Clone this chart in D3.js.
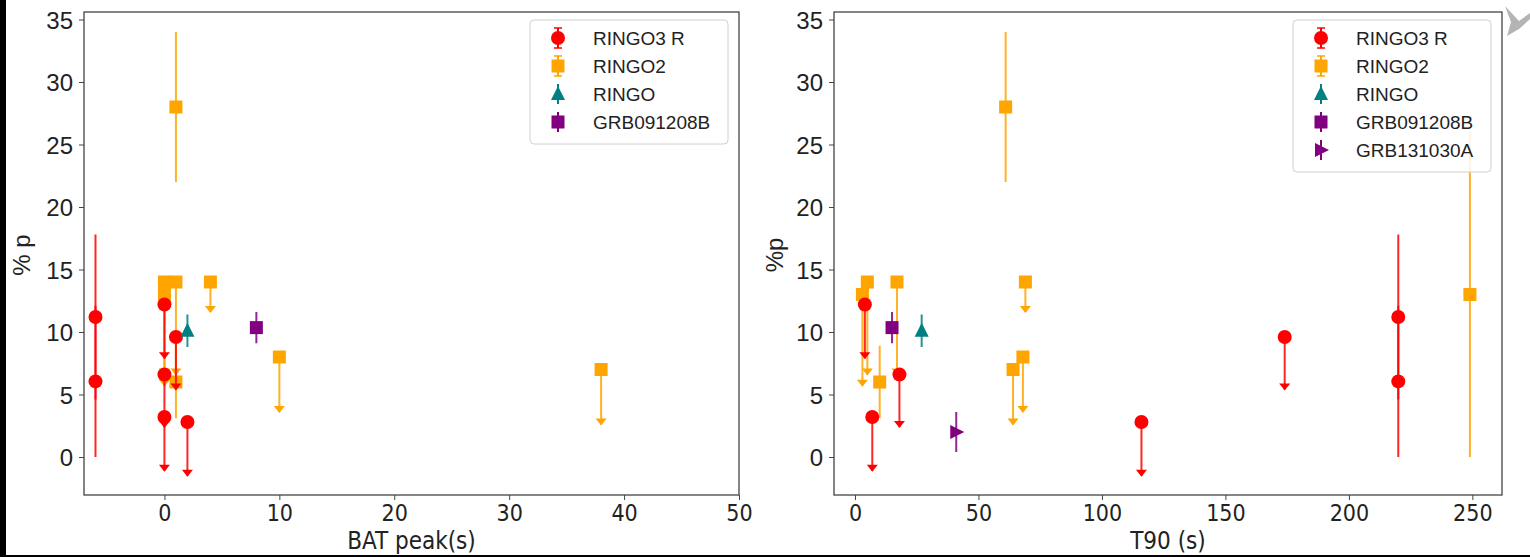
<!DOCTYPE html>
<html lang="en">
  <head>
    <meta charset="UTF-8" />
    <title>Polarisation vs BAT peak and T90</title>
    <script src="https://d3js.org/d3.v7.min.js"></script>
    <style>
      body {
        margin: 0;
        background: #fff;
      }
      .ytick text {
        font: 24px "Liberation Sans", Arial, sans-serif;
        fill: #222;
      }
      .xtick text {
        font: 23px "Liberation Sans Narrow", "DejaVu Sans Condensed", sans-serif;
        fill: #222;
      }
      .axis-title {
        font: 24px "Liberation Sans Narrow", "DejaVu Sans Condensed", sans-serif;
        fill: #222;
      }
      .legend text {
        font: 19px "Liberation Sans", Arial, sans-serif;
        fill: #222;
      }
    </style>
  </head>
  <body>
    <div id="chart"></div>
    <script>
      // RINGO3 R
      const ringo3Bat = [-6, -6, 0, 0, 0, 1, 2];
      const ringo3T90 = [220, 220, 4, 18, 7, 174, 116];
      const ringo3P = [11.2, 6.05, 12.2, 6.6, 3.2, 9.6, 2.8];
      const ringo3Err = [6.6, 6.05, 4.3, 4.2, 4.3, 4.2, 4.3];
      const ringo3Lim = [false, false, true, true, true, true, true];

      // RINGO2 (last one has no BAT peak)
      const ringo2Bat = [1, 1, 0, 0, 1, 4, 10, 38, null];
      const ringo2T90 = [61, 10, 3, 5, 17, 69, 68, 64, 249];
      const ringo2P = [28, 6, 13, 14, 14, 14, 8, 7, 13];
      const ringo2Err = [6, 2.9, 7.3, 7.4, 7.4, 2.4, 4.4, 4.4, 13];
      const ringo2Lim = [false, false, true, true, true, true, true, true, false];

      // RINGO
      const ringoBat = [2];
      const ringoT90 = [27];
      const ringoP = [10.1];
      const ringoErr = [1.3];

      // GRB091208B
      const grb091208bBat = [8];
      const grb091208bT90 = [15];
      const grb091208bP = [10.35];
      const grb091208bErr = [1.25];

      // GRB131030A (T90 only)
      const grb131030aT90 = [41];
      const grb131030aP = [2.0];
      const grb131030aErr = [1.6];

      const yTicks = [0, 5, 10, 15, 20, 25, 30, 35];
      const batTicks = [0, 10, 20, 30, 40, 50];
      const t90Ticks = [0, 50, 100, 150, 200, 250];

      const W = 1530, H = 557;

      const svg = d3
        .select("#chart")
        .append("svg")
        .attr("width", W)
        .attr("height", H);

      svg.append("rect").attr("width", W).attr("height", H).attr("fill", "#fff");

      const pts = (xs, ps, errs, lims) =>
        xs
          .map((x, i) => ({ x, p: ps[i], err: errs[i], lim: lims ? lims[i] : false }))
          .filter((d) => d.x !== null);

      const series = {
        ringo3: { color: "#ff0000", marker: "circle", label: "RINGO3 R", caps: true },
        ringo2: { color: "#ffa500", marker: "square", label: "RINGO2", caps: true },
        ringo: { color: "#008080", marker: "triangle", label: "RINGO", caps: false },
        g091208b: { color: "#800080", marker: "square", label: "GRB091208B", caps: false },
        g131030a: { color: "#800080", marker: "tri-right", label: "GRB131030A", caps: false },
      };

      function drawMarker(g, type, cx, cy, color) {
        if (type === "circle") {
          g.append("circle").attr("cx", cx).attr("cy", cy).attr("r", 7).attr("fill", color);
        } else if (type === "square") {
          g.append("rect")
            .attr("x", cx - 6.5).attr("y", cy - 6.5)
            .attr("width", 13).attr("height", 13)
            .attr("fill", color);
        } else if (type === "triangle") {
          g.append("path")
            .attr("d", `M${cx},${cy - 8}L${cx + 7},${cy + 6}L${cx - 7},${cy + 6}Z`)
            .attr("fill", color);
        } else if (type === "tri-right") {
          g.append("path")
            .attr("d", `M${cx + 8},${cy}L${cx - 6},${cy - 7}L${cx - 6},${cy + 7}Z`)
            .attr("fill", color);
        }
      }

      function panel(cfg) {
        const x = d3.scaleLinear().domain(cfg.xDomain).range(cfg.xRange);
        const y = d3.scaleLinear().domain([-3.04, 35.6]).range([495, 12]);
        const g = svg.append("g");

        // axes
        g.append("g")
          .attr("class", "xtick")
          .attr("transform", "translate(0,495)")
          .call(d3.axisBottom(x).tickValues(cfg.xTicks).tickSize(5).tickPadding(5))
          .call((a) => a.select(".domain").remove())
          .call((a) => a.selectAll("line").attr("stroke", "#444"));
        g.append("g")
          .attr("class", "ytick")
          .attr("transform", `translate(${cfg.xRange[0]},0)`)
          .call(d3.axisLeft(y).tickValues(yTicks).tickSize(5).tickPadding(6))
          .call((a) => a.select(".domain").remove())
          .call((a) => a.selectAll("line").attr("stroke", "#444"))
          .call((a) => a.selectAll("text").attr("dy", "0.36em"));

        const plot = g.append("g");

        cfg.data.forEach((s) => {
          const st = series[s.key];
          const sg = plot.append("g");
          s.points.forEach((d) => {
            const cx = x(d.x), cy = y(d.p);
            if (d.lim) {
              const ye = y(d.p - d.err);
              sg.append("line")
                .attr("x1", cx).attr("x2", cx)
                .attr("y1", cy).attr("y2", ye)
                .attr("stroke", st.color).attr("stroke-width", 2)
                .attr("stroke-opacity", 0.85);
              sg.append("path")
                .attr("d", `M${cx - 5.5},${ye - 6}L${cx + 5.5},${ye - 6}L${cx},${ye + 1}Z`)
                .attr("fill", st.color);
            } else {
              sg.append("line")
                .attr("x1", cx).attr("x2", cx)
                .attr("y1", y(d.p + d.err)).attr("y2", y(d.p - d.err))
                .attr("stroke", st.color).attr("stroke-width", 2)
                .attr("stroke-opacity", 0.85);
            }
          });
          s.points.forEach((d) => drawMarker(sg, st.marker, x(d.x), y(d.p), st.color));
        });

        // frame
        g.append("rect")
          .attr("x", cfg.xRange[0]).attr("y", 12)
          .attr("width", cfg.xRange[1] - cfg.xRange[0]).attr("height", 483)
          .attr("fill", "none").attr("stroke", "#444").attr("stroke-width", 1.3);

        // legend
        const lg = g.append("g").attr("class", "legend");
        const keys = cfg.legend;
        lg.append("rect")
          .attr("x", cfg.legendX).attr("y", 20)
          .attr("width", 198).attr("height", 12 + keys.length * 28)
          .attr("rx", 4)
          .attr("fill", "#fff").attr("fill-opacity", 0.85)
          .attr("stroke", "#d0d0d0");
        keys.forEach((k, i) => {
          const st = series[k];
          const cy = 38 + i * 28;
          const mx = cfg.legendX + 28;
          lg.append("line")
            .attr("x1", mx).attr("x2", mx)
            .attr("y1", cy - 10).attr("y2", cy + 10)
            .attr("stroke", st.color).attr("stroke-width", 2);
          if (st.caps) {
            [cy - 10, cy + 10].forEach((yy) =>
              lg.append("line")
                .attr("x1", mx - 4).attr("x2", mx + 4)
                .attr("y1", yy).attr("y2", yy)
                .attr("stroke", st.color).attr("stroke-width", 1.5)
            );
          }
          drawMarker(lg, st.marker, mx, cy, st.color);
          lg.append("text")
            .attr("x", cfg.legendX + 63)
            .attr("y", cy)
            .attr("dy", "0.36em")
            .text(st.label);
        });

        // titles
        g.append("text")
          .attr("class", "axis-title")
          .attr("x", (cfg.xRange[0] + cfg.xRange[1]) / 2)
          .attr("y", 549)
          .attr("text-anchor", "middle")
          .text(cfg.xTitle);
        g.append("text")
          .attr("class", "axis-title")
          .attr("transform", `translate(${cfg.yTitleX},255) rotate(-90)`)
          .attr("text-anchor", "middle")
          .style("font-family", '"Liberation Sans", Arial, sans-serif')
          .text(cfg.yTitle);
      }

      panel({
        xDomain: [-7, 50],
        xRange: [84, 739],
        xTicks: batTicks,
        xTitle: "BAT peak(s)",
        yTitle: "% p",
        yTitleX: 30,
        legendX: 530,
        legend: ["ringo3", "ringo2", "ringo", "g091208b"],
        data: [
          { key: "ringo2", points: pts(ringo2Bat, ringo2P, ringo2Err, ringo2Lim) },
          { key: "ringo3", points: pts(ringo3Bat, ringo3P, ringo3Err, ringo3Lim) },
          { key: "ringo", points: pts(ringoBat, ringoP, ringoErr) },
          { key: "g091208b", points: pts(grb091208bBat, grb091208bP, grb091208bErr) },
        ],
      });

      panel({
        xDomain: [-8.5, 262],
        xRange: [834, 1502],
        xTicks: t90Ticks,
        xTitle: "T90 (s)",
        yTitle: "%p",
        yTitleX: 783,
        legendX: 1293,
        legend: ["ringo3", "ringo2", "ringo", "g091208b", "g131030a"],
        data: [
          { key: "ringo2", points: pts(ringo2T90, ringo2P, ringo2Err, ringo2Lim) },
          { key: "ringo3", points: pts(ringo3T90, ringo3P, ringo3Err, ringo3Lim) },
          { key: "ringo", points: pts(ringoT90, ringoP, ringoErr) },
          { key: "g091208b", points: pts(grb091208bT90, grb091208bP, grb091208bErr) },
          { key: "g131030a", points: pts(grb131030aT90, grb131030aP, grb131030aErr) },
        ],
      });

      // screenshot edges: dark strips and the grey corner chevron
      svg.append("rect").attr("x", 0).attr("y", 0).attr("width", 6).attr("height", H).attr("fill", "#000");
      svg.append("rect").attr("x", 0).attr("y", H - 2).attr("width", W).attr("height", 2).attr("fill", "#000");
      svg.append("path")
        .attr("d", "M1505,6L1519,21L1530,13L1530,19L1519,29L1507,36L1511,22Z")
        .attr("fill", "#b4b4b4");
    </script>
  </body>
</html>
